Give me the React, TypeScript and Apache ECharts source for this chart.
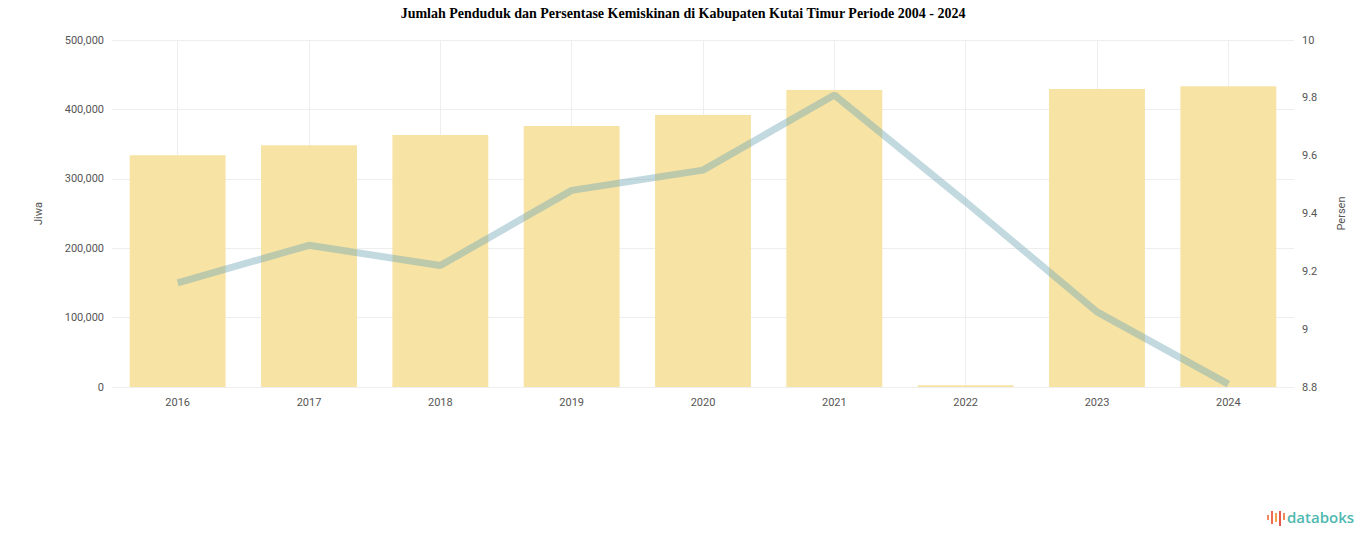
import React, { useEffect, useRef } from "react";
import * as echarts from "echarts";

const title = "Jumlah Penduduk dan Persentase Kemiskinan di Kabupaten Kutai Timur Periode 2004 - 2024";
const years = ["2016", "2017", "2018", "2019", "2020", "2021", "2022", "2023", "2024"];
const population = [334000, 348500, 363000, 376000, 392000, 428000, 2500, 429500, 433500];
const povertyPct = [9.16, 9.29, 9.22, 9.48, 9.55, 9.81, 9.44, 9.06, 8.81];
const leftAxisName = "Jiwa";
const rightAxisName = "Persen";

export default function App() {
  const ref = useRef<HTMLDivElement>(null);
  useEffect(() => {
    if (!ref.current) return;
    const chart = echarts.init(ref.current, undefined, { renderer: "svg" });
    chart.setOption({
      animation: false,
      backgroundColor: "#ffffff",
      title: {
        text: title,
        left: "center",
        top: 1,
        textStyle: { fontFamily: "Liberation Serif", fontWeight: "bold", fontSize: 14, color: "#000" },
      },
      grid: { left: 112, right: 72, top: 40, bottom: 160 },
      xAxis: {
        type: "category",
        data: years,
        axisLine: { show: false },
        axisTick: { show: false },
        axisLabel: { color: "#555", fontSize: 11, fontFamily: "Roboto", margin: 10 },
        splitLine: { show: true, alignWithLabel: true, lineStyle: { color: "#eeeeee", width: 1 } },
      },
      yAxis: [
        {
          type: "value",
          min: 0,
          max: 500000,
          interval: 100000,
          name: leftAxisName,
          nameLocation: "middle",
          nameGap: 68,
          nameTextStyle: { color: "#555", fontSize: 11, fontFamily: "Roboto" },
          axisLabel: {
            color: "#555",
            fontSize: 11,
            fontFamily: "Roboto",
            margin: 8,
            formatter: (v: number) => v.toLocaleString("en-US"),
          },
          splitLine: { lineStyle: { color: "#eeeeee" } },
        },
        {
          type: "value",
          min: 8.8,
          max: 10,
          interval: 0.2,
          name: rightAxisName,
          nameLocation: "middle",
          nameGap: 42,
          nameTextStyle: { color: "#555", fontSize: 11, fontFamily: "Roboto" },
          axisLabel: { color: "#555", fontSize: 11, fontFamily: "Roboto", margin: 8 },
          splitLine: { show: false },
        },
      ],
      series: [
        {
          type: "bar",
          data: population,
          yAxisIndex: 0,
          barWidth: "73%",
          itemStyle: { color: "#f7e3a4" },
        },
        {
          type: "line",
          data: povertyPct,
          yAxisIndex: 1,
          symbol: "none",
          lineStyle: { color: "rgba(110,165,180,0.42)", width: 7 },
        },
      ],
      graphic: [
        { type: "rect", shape: { x: 1267, y: 515, width: 2, height: 5 }, style: { fill: "#f08a5d" } },
        { type: "rect", shape: { x: 1271, y: 511, width: 2, height: 13 }, style: { fill: "#ef6b4f" } },
        { type: "rect", shape: { x: 1275, y: 513, width: 2, height: 9 }, style: { fill: "#f5a04a" } },
        { type: "rect", shape: { x: 1279, y: 511, width: 2, height: 15 }, style: { fill: "#e8574b" } },
        { type: "rect", shape: { x: 1283, y: 513, width: 2, height: 7 }, style: { fill: "#f08a5d" } },
        {
          type: "text",
          x: 1287,
          y: 509,
          style: { text: "databoks", fill: "#4fb8b0", fontSize: 15, fontFamily: "Open Sans", fontWeight: 600 },
        },
      ],
    });
    return () => chart.dispose();
  }, []);
  return <div ref={ref} style={{ position: "absolute", left: 0, top: 0, width: 1366, height: 547 }} />;
}
